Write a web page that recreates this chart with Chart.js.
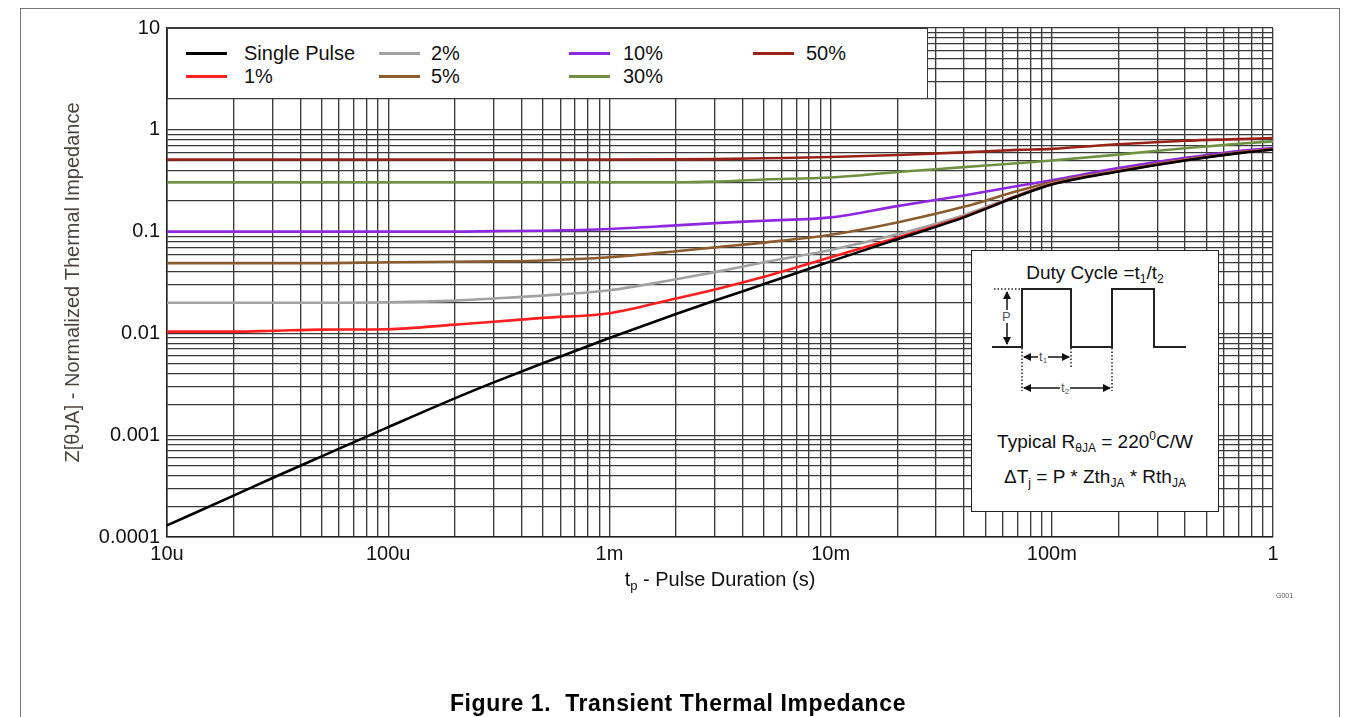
<!DOCTYPE html>
<html><head><meta charset="utf-8">
<script src="https://cdn.jsdelivr.net/npm/chart.js@4/dist/chart.umd.min.js"></script>
<style>
html,body{margin:0;padding:0;background:#fff;}
#wrap{position:relative;width:1353px;height:717px;overflow:hidden;font-family:"Liberation Sans",Arial,sans-serif;color:#111;}
#c{position:absolute;left:0;top:0;}
#frame{position:absolute;left:20px;top:8px;width:1320px;height:730px;border:1px solid #777;box-sizing:border-box;}
#legend{position:absolute;left:167px;top:28px;width:761px;height:71px;background:#fff;border:1.5px solid #3a3a3a;box-sizing:border-box;}
.sw{position:absolute;height:3px;}
.lt{position:absolute;font-size:20px;line-height:22px;white-space:nowrap;color:#111;}
#xtitle{position:absolute;left:0;width:1440px;top:568px;text-align:center;font-size:20px;line-height:22px;color:#111;}
#xtitle sub{font-size:13px;vertical-align:-4px;line-height:0;}
#tag{position:absolute;left:1276px;top:592px;font-size:7px;color:#555;}
#caption{position:absolute;left:20px;width:1316px;top:691px;text-align:center;font-weight:bold;font-size:23px;letter-spacing:0.6px;line-height:24px;color:#000;}
#inset{position:absolute;left:971px;top:250px;width:248px;height:262px;background:#fff;border:1.5px solid #222;box-sizing:border-box;}
#inset svg{position:absolute;left:0;top:0;}
.it{position:absolute;left:0;width:100%;text-align:center;font-size:19px;line-height:20px;white-space:nowrap;color:#111;}
.it sub{font-size:12px;vertical-align:-4px;line-height:0;}
.it sup{font-size:12px;vertical-align:8px;line-height:0;}
.sm{position:absolute;font-size:13px;line-height:13px;color:#555;background:#fff;padding:0 1px;}
.sm sub{font-size:8px;vertical-align:-2px;line-height:0;}
</style>
</head><body>
<div id="wrap">
  <canvas id="c" width="1353" height="717"></canvas>
  <div id="frame"></div>
  <div id="legend"></div>
  <div id="inset">
    <svg width="246" height="260" viewBox="0 0 246 260">
      <defs>
        <marker id="ah" markerWidth="8" markerHeight="8" refX="7" refY="4" orient="auto-start-reverse" markerUnits="userSpaceOnUse">
          <path d="M0,0 L8,4 L0,8 z" fill="#111"/>
        </marker>
      </defs>
      <polyline points="20,96 50,96 50,38 99,38 99,96 140,96 140,38 182,38 182,96 214,96" fill="none" stroke="#222" stroke-width="2"/>
      <line x1="22" y1="38" x2="50" y2="38" stroke="#222" stroke-width="1.5" stroke-dasharray="1.5,2"/>
      <line x1="50" y1="97" x2="50" y2="140" stroke="#222" stroke-width="1.5" stroke-dasharray="1.5,2"/>
      <line x1="99" y1="97" x2="99" y2="118" stroke="#222" stroke-width="1.5" stroke-dasharray="1.5,2"/>
      <line x1="140" y1="97" x2="140" y2="140" stroke="#222" stroke-width="1.5" stroke-dasharray="1.5,2"/>
      <line x1="35" y1="41" x2="35" y2="93" stroke="#111" stroke-width="1.5" marker-start="url(#ah)" marker-end="url(#ah)"/>
      <line x1="52" y1="106" x2="97" y2="106" stroke="#111" stroke-width="1.5" marker-start="url(#ah)" marker-end="url(#ah)"/>
      <line x1="52" y1="137" x2="138" y2="137" stroke="#111" stroke-width="1.5" marker-start="url(#ah)" marker-end="url(#ah)"/>
    </svg>
    <div class="sm" style="left:29px;top:59px;">P</div>
    <div class="sm" style="left:66px;top:99px;">t<sub>1</sub></div>
    <div class="sm" style="left:88px;top:130px;">t<sub>2</sub></div>
    <div class="it" style="top:12px;">Duty Cycle =t<sub>1</sub>/t<sub>2</sub></div>
    <div class="it" style="top:181px;">Typical R<sub>θJA</sub> = 220<sup>0</sup>C/W</div>
    <div class="it" style="top:216px;">ΔT<sub>j</sub> = P * Zth<sub>JA</sub> * Rth<sub>JA</sub></div>
  </div>
  <div id="xtitle">t<sub>p</sub> - Pulse Duration (s)</div>
  <div id="tag">G001</div>
  <div id="caption">Figure 1.&nbsp; Transient Thermal Impedance</div>
</div>
<script>
// ---- data ----
const pulseDuration = [1e-5, 2e-5, 3e-5, 5e-5, 1e-4, 2e-4, 3e-4, 5e-4, 1e-3, 2e-3, 3e-3, 5e-3, 1e-2, 2e-2, 4e-2, 7e-2, 1e-1, 2e-1, 4e-1, 7e-1, 1];
const singlePulse = [1.3e-4, 2.55e-4, 3.8e-4, 6.2e-4, 1.2e-3, 2.3e-3, 3.3e-3, 5.1e-3, 9.0e-3, 1.55e-2, 2.1e-2, 3.05e-2, 5.1e-2, 8.4e-2, 0.138, 0.222, 0.29, 0.39, 0.50, 0.59, 0.64];
const duty1  = [0.0104, 0.0104, 0.0106, 0.0109, 0.011, 0.0122, 0.013, 0.0142, 0.0158, 0.022, 0.027, 0.036, 0.056, 0.087, 0.14, 0.224, 0.292, 0.392, 0.502, 0.592, 0.642];
const duty2  = [0.02, 0.02, 0.02, 0.02, 0.0202, 0.021, 0.022, 0.0235, 0.0265, 0.034, 0.04, 0.05, 0.066, 0.094, 0.145, 0.228, 0.295, 0.395, 0.505, 0.595, 0.645];
const duty5  = [0.049, 0.049, 0.049, 0.049, 0.05, 0.0505, 0.051, 0.052, 0.056, 0.064, 0.07, 0.078, 0.093, 0.123, 0.175, 0.25, 0.305, 0.40, 0.51, 0.60, 0.648];
const duty10 = [0.1, 0.1, 0.1, 0.1, 0.1, 0.1, 0.101, 0.102, 0.106, 0.115, 0.121, 0.128, 0.138, 0.178, 0.226, 0.28, 0.32, 0.42, 0.53, 0.62, 0.66];
const duty30 = [0.305, 0.305, 0.305, 0.305, 0.305, 0.305, 0.305, 0.305, 0.305, 0.305, 0.31, 0.325, 0.34, 0.385, 0.43, 0.47, 0.5, 0.57, 0.66, 0.73, 0.77];
const duty50 = [0.51, 0.51, 0.51, 0.51, 0.51, 0.51, 0.51, 0.51, 0.51, 0.512, 0.515, 0.525, 0.54, 0.565, 0.60, 0.635, 0.65, 0.72, 0.78, 0.81, 0.83];

const seriesNames  = ['Single Pulse', '1%', '2%', '5%', '10%', '30%', '50%'];
const seriesValues = [singlePulse, duty1, duty2, duty5, duty10, duty30, duty50];
const seriesColors = ['#000000', '#ff1f1f', '#a2a2a2', '#8c5b2e', '#8e27df', '#6f9142', '#9a2317'];

const xDecades    = [1e-5, 1e-4, 1e-3, 1e-2, 1e-1, 1];
const xTickLabels = ['10u', '100u', '1m', '10m', '100m', '1'];
const yDecades    = [1e-4, 1e-3, 1e-2, 1e-1, 1, 10];
const yTickLabels = ['0.0001', '0.001', '0.01', '0.1', '1', '10'];

// ---- layout ----
const FONT = 'Liberation Sans';
const legendCols = {line: [185, 378, 568, 752], text: [243, 430, 622, 805]};
const legendRows = [53, 76];

function logTicks(decades) {
  const out = [];
  for (let i = 0; i < decades.length - 1; i++) {
    for (let k = 1; k <= 9; k++) out.push(parseFloat((k * decades[i]).toPrecision(6)));
  }
  out.push(decades[decades.length - 1]);
  return out;
}
function labelFor(v, decades, labels) {
  for (let i = 0; i < decades.length; i++) {
    if (Math.abs(Math.log10(v) - Math.log10(decades[i])) < 1e-6) return labels[i];
  }
  return '';
}

const datasets = seriesNames.map((name, i) => ({
  label: name,
  data: pulseDuration.map((x, j) => ({x: x, y: seriesValues[i][j]})),
  borderColor: seriesColors[i],
  backgroundColor: seriesColors[i],
  borderWidth: 2.6,
  pointRadius: 0,
  fill: false,
  cubicInterpolationMode: 'monotone'
}));

const gridStyle = {color: '#3a3a3a', lineWidth: 1.35, drawTicks: false};

new Chart(document.getElementById('c'), {
  type: 'line',
  data: {datasets},
  options: {
    responsive: false,
    animation: false,
    devicePixelRatio: 1,
    layout: {padding: {left: 0, right: 80, top: 28, bottom: 120}},
    plugins: {legend: {display: false}, tooltip: {enabled: false}},
    scales: {
      x: {
        type: 'logarithmic',
        min: xDecades[0], max: xDecades[xDecades.length - 1],
        grid: gridStyle,
        border: {display: true, color: '#222', width: 1.5},
        afterBuildTicks: (s) => { s.ticks = logTicks(xDecades).map(v => ({value: v})); },
        afterFit: (s) => { s.height = 60; },
        ticks: {
          autoSkip: false, maxRotation: 0, minRotation: 0, padding: 5,
          color: '#111', font: {family: FONT, size: 20},
          callback: (v) => labelFor(v, xDecades, xTickLabels)
        }
      },
      y: {
        type: 'logarithmic',
        min: yDecades[0], max: yDecades[yDecades.length - 1],
        grid: gridStyle,
        border: {display: true, color: '#222', width: 1.5},
        afterBuildTicks: (s) => { s.ticks = logTicks(yDecades).map(v => ({value: v})); },
        afterFit: (s) => { s.width = 167; },
        ticks: {
          autoSkip: false, padding: 7,
          color: '#111', font: {family: FONT, size: 20},
          callback: (v) => labelFor(v, yDecades, yTickLabels)
        },
        title: {
          display: true, text: 'Z[θJA] - Normalized Thermal Impedance',
          color: '#4a4440', font: {family: FONT, size: 20},
          padding: {top: 61, bottom: 0}
        }
      }
    }
  }
});

// HTML legend built from the datasets (2 rows, column-major)
const lg = document.getElementById('legend');
seriesNames.forEach((name, i) => {
  const col = Math.floor(i / 2), row = i % 2;
  const sw = document.createElement('div');
  sw.className = 'sw';
  sw.style.background = seriesColors[i];
  sw.style.left = (legendCols.line[col] - 167) + 'px';
  sw.style.width = '41px';
  sw.style.top = (legendRows[row] - 28 - 2) + 'px';
  lg.appendChild(sw);
  const t = document.createElement('div');
  t.className = 'lt';
  t.textContent = name;
  t.style.left = (legendCols.text[col] - 167) + 'px';
  t.style.top = (legendRows[row] - 28 - 12) + 'px';
  lg.appendChild(t);
});
</script>
</body></html>
